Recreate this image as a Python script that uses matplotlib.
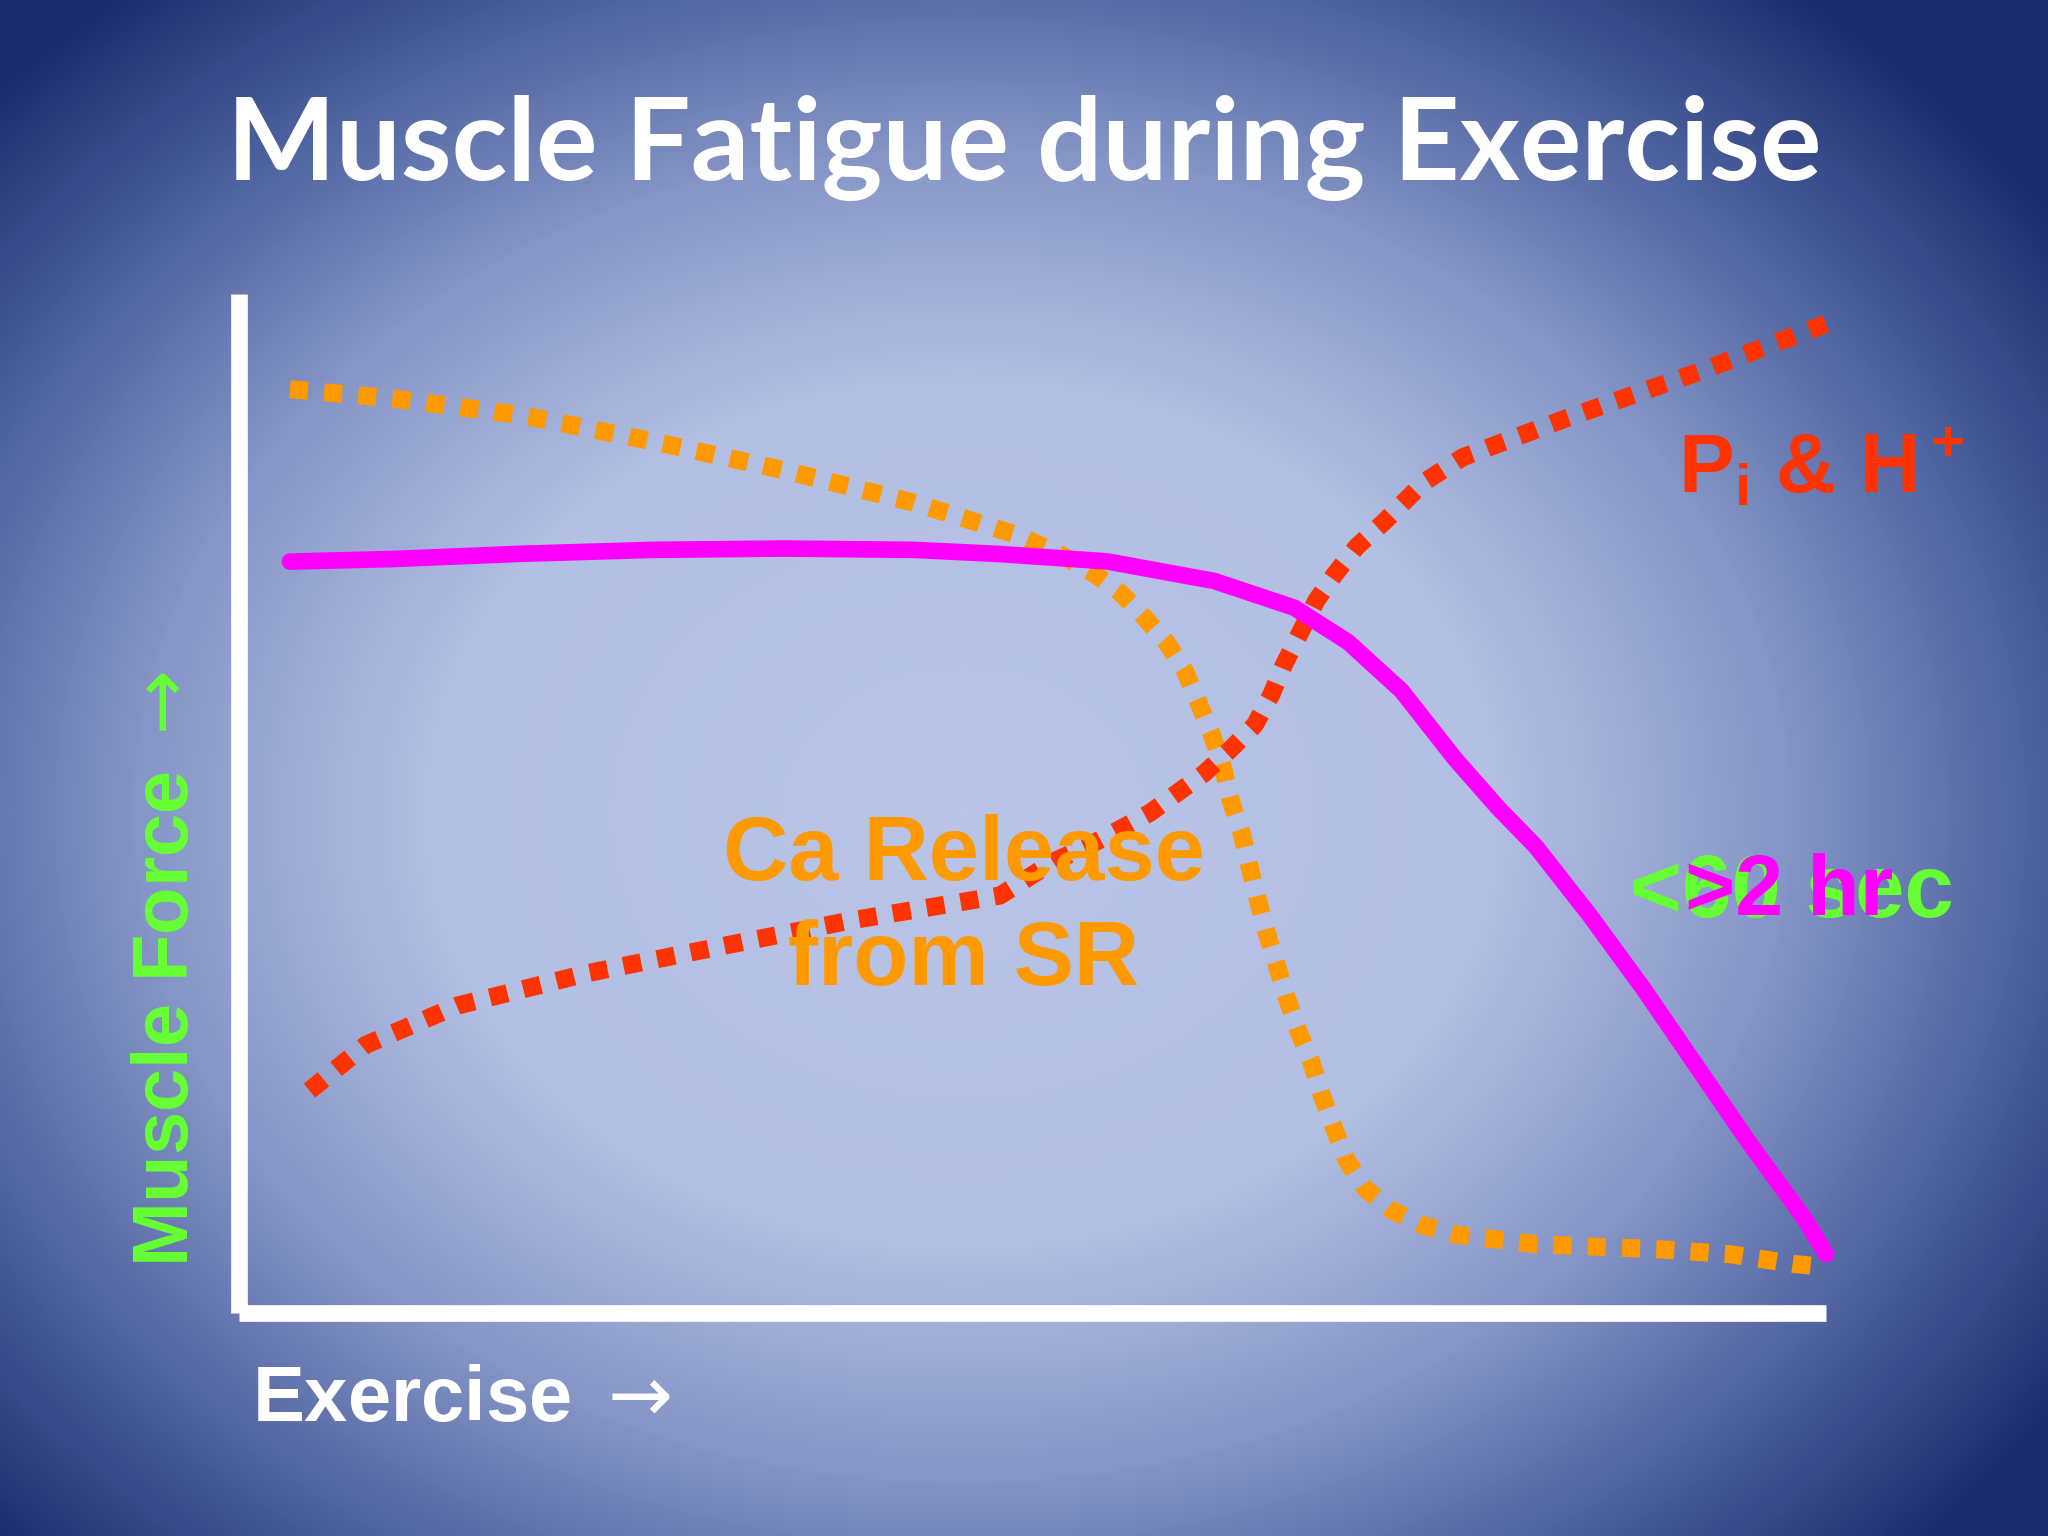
import numpy as np
import matplotlib
matplotlib.use("Agg")
import matplotlib.pyplot as plt
from matplotlib.colors import LinearSegmentedColormap

# curve values (x = exercise, y = level, both 0..100)
force_x = [3.21, 9.63, 17.86, 26.09, 34.32, 42.55, 47.95, 54.70, 61.44, 66.50, 69.88, 73.25,
           76.63, 79.34, 81.73, 85.10, 88.48, 91.85, 95.23, 98.60, 100.0]
force_y = [73.72, 73.97, 74.49, 74.87, 75.0, 74.87, 74.46, 73.74, 71.82, 69.19, 65.83, 61.05,
           54.35, 49.55, 45.73, 39.03, 31.83, 24.18, 16.51, 9.33, 5.74]

ca_x = [3.21, 9.63, 17.86, 26.09, 34.32, 42.55, 49.14, 52.0, 53.87, 55.56, 56.91, 58.43, 59.61,
        60.46, 61.30, 61.98, 62.49, 63.16, 63.67, 64.17, 64.75, 65.36, 66.03, 66.78, 67.56,
        68.23, 68.98, 69.75, 70.94, 72.63, 74.49, 76.68, 81.75, 89.52, 93.93, 97.97, 100.0]
ca_y = [90.64, 89.74, 88.08, 85.51, 82.69, 79.49, 76.28, 74.22, 72.54, 70.63, 68.47, 65.83, 62.96,
        59.85, 56.74, 53.63, 50.27, 47.17, 43.81, 40.69, 37.35, 34.23, 30.88, 27.53, 24.65,
        21.31, 18.19, 15.08, 12.21, 10.05, 8.62, 7.65, 6.71, 6.22, 5.74, 4.78, 4.49]

pi_x = [4.44, 7.98, 13.74, 21.98, 30.21, 38.44, 47.95, 51.33, 53.70, 55.73, 57.42, 59.10, 60.80,
        62.49, 64.01, 65.02, 65.87, 66.88, 67.89, 69.08, 70.43, 72.12, 74.65, 77.12, 83.70,
        91.93, 100.0]
pi_y = [21.79, 26.28, 30.13, 33.33, 35.90, 38.46, 40.94, 44.28, 45.96, 47.64, 49.08, 50.99, 52.91,
        55.31, 57.69, 60.56, 63.68, 66.79, 69.91, 72.54, 75.18, 77.56, 81.5, 83.97, 87.82,
        92.31, 97.05]

title = "Muscle Fatigue during Exercise"
ylabel = r"Muscle Force $\mathsf{\rightarrow}$"
xlabel = r"Exercise $\mathsf{\rightarrow}$"
ca_label = "Ca Release\nfrom SR"
pi_label = r'$\mathrm{P_i}$ & $\mathrm{H^+}$'
short_label = "<60 sec"
long_label = ">2 hr"

plt.rcParams['mathtext.fontset'] = 'custom'
plt.rcParams['mathtext.rm'] = 'Liberation Sans:bold'
plt.rcParams['mathtext.bf'] = 'Liberation Sans:bold'
plt.rcParams['mathtext.it'] = 'Liberation Sans:bold'
plt.rcParams['mathtext.sf'] = 'DejaVu Sans'

fig = plt.figure(figsize=(20.48, 15.36), dpi=100)

# radial background like the slide
bg = fig.add_axes([0, 0, 1, 1])
gx, gy = np.meshgrid(np.linspace(0, 1, 400), np.linspace(0, 1, 300))
t = np.sqrt(((gx - 0.47) / 0.52) ** 2 + ((gy - 0.47) / 0.56) ** 2) / 1.25
cmap = LinearSegmentedColormap.from_list(
    "slide", [(0, '#b9c4e6'), (0.4, '#b3bfe3'), (0.62, '#8595c6'),
              (0.8, '#5064a1'), (1.0, '#1c2b6c')])
bg.imshow(np.clip(t, 0, 1), cmap=cmap, vmin=0, vmax=1, origin='lower', extent=[0, 1, 0, 1],
          aspect='auto', interpolation='bilinear')
bg.set_axis_off()

# plot area
ax = fig.add_axes([0.1167, 0.1454, 0.7749, 0.6633])
ax.patch.set_alpha(0)
ax.set_xlim(0, 100)
ax.set_ylim(0, 100)
for s in ['top', 'right']:
    ax.spines[s].set_visible(False)
for s in ['left', 'bottom']:
    ax.spines[s].set_color('white')
    ax.spines[s].set_linewidth(12)
    ax.spines[s].set_capstyle('butt')
ax.set_xticks([])
ax.set_yticks([])

ax.plot(ca_x, ca_y, color='#ff9900', lw=13, dashes=(1, 0.9), dash_capstyle='butt', clip_on=False)
ax.plot(pi_x, pi_y, color='#ff3300', lw=13, dashes=(1, 0.9), dash_capstyle='butt', clip_on=False)
ax.plot(force_x, force_y, color='#ff00ff', lw=12, solid_capstyle='round',
        solid_joinstyle='round', clip_on=False)

# texts
fig.text(0.5, 0.883, title, ha='center', va='baseline', color='white',
         fontsize=83, fontweight='bold', family='Lato')
fig.text(0.0816, 0.175, ylabel, ha='center', va='bottom', rotation=90, color='#66ff33',
         fontsize=56, fontweight='bold', family='Liberation Sans')
fig.text(0.123, 0.075, xlabel, ha='left', va='baseline', color='white',
         fontsize=56, fontweight='bold', family='Liberation Sans')
fig.text(0.4707, 0.408, ca_label, ha='center', va='center', color='#ff9900',
         fontsize=65, fontweight='bold', family='Liberation Sans', linespacing=1.3)
fig.text(0.8195, 0.679, pi_label, ha='left', va='baseline',
         color='#ff3300', fontsize=60, fontweight='bold', family='Liberation Sans')
fig.text(0.796, 0.403, short_label, ha='left', va='baseline', color='#66ff33',
         fontsize=64, fontweight='bold', family='Liberation Sans')
fig.text(0.8227, 0.404, long_label, ha='left', va='baseline', color='#ff00ff',
         fontsize=62, fontweight='bold', family='Liberation Sans')

fig.savefig("out.png", dpi=100)
